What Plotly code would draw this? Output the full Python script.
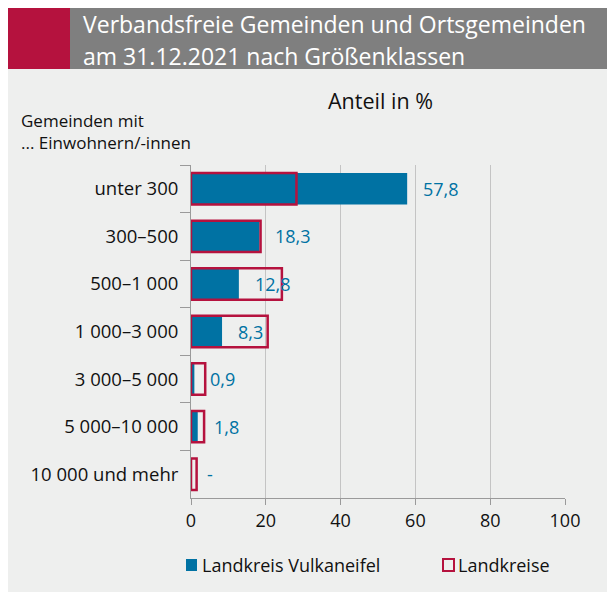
import plotly.graph_objects as go

categories = ["unter 300", "300–500", "500–1 000", "1 000–3 000",
              "3 000–5 000", "5 000–10 000", "10 000 und mehr"]
vulkaneifel = [57.8, 18.3, 12.8, 8.3, 0.9, 1.8, 0.0]
vulkaneifel_labels = ["57,8", "18,3", "12,8", "8,3", "0,9", "1,8", "-"]
landkreise = [28.2, 18.6, 24.3, 20.5, 3.8, 3.5, 1.5]
x_ticks = [0, 20, 40, 60, 80, 100]
title_lines = ["Verbandsfreie Gemeinden und Ortsgemeinden",
               "am 31.12.2021 nach Größenklassen"]

BLUE = "#0072A3"
CRIMSON = "#B5123E"
GREY_BAND = "#7F7F7F"
BG = "#EEEFEE"
FONT = "Open Sans"
TXT = "#111111"

# the page body adds an 8px margin, so the figure is 8px smaller
OFF = 8
W, H = 615 - OFF, 592 - OFF
L, R, T, B = 191 - OFF, 615 - 565, 165 - OFF, 592 - 498


def px(x):
    # reference pixel -> paper x
    return (x - OFF - L) / (W - L - R)


def py(y):
    # reference pixel -> paper y
    return (H - B - (y - OFF)) / (H - T - B)


fig = go.Figure()
fig.add_trace(go.Bar(
    y=categories, x=vulkaneifel, orientation="h", width=0.66,
    marker=dict(color=BLUE, line=dict(width=0)),
    name="Landkreis Vulkaneifel", hoverinfo="x+y",
))
fig.add_trace(go.Bar(
    y=categories, x=landkreise, orientation="h", width=0.66,
    marker=dict(color="rgba(0,0,0,0)", line=dict(color=CRIMSON, width=2.5)),
    name="Landkreise", hoverinfo="x+y",
))

annotations = []
for cat, val, lab in zip(categories, vulkaneifel, vulkaneifel_labels):
    annotations.append(dict(
        x=val, y=cat, text=lab, showarrow=False, xanchor="left",
        xshift=14, font=dict(color=BLUE, size=18, family=FONT),
    ))

# header: one annotation per line
for line, yy in zip(title_lines, [24, 56]):
    annotations.append(dict(
        x=px(81), y=py(yy), xref="paper", yref="paper", xanchor="left",
        yanchor="middle", showarrow=False, text=line,
        font=dict(color="white", size=23, family=FONT)))

annotations += [
    dict(x=px(380), y=py(101), xref="paper", yref="paper", xanchor="center",
         yanchor="middle", showarrow=False, text="Anteil in %",
         font=dict(color=TXT, size=21.5, family=FONT)),
    dict(x=px(19), y=py(131), xref="paper", yref="paper", xanchor="left",
         yanchor="middle", showarrow=False, align="left",
         text="Gemeinden mit<br>... Einwohnern/-innen",
         font=dict(color=TXT, size=17, family=FONT)),
    dict(x=px(200), y=py(565), xref="paper", yref="paper", xanchor="left",
         yanchor="middle", showarrow=False, text="Landkreis Vulkaneifel",
         font=dict(color=TXT, size=18, family=FONT)),
    dict(x=px(456), y=py(565), xref="paper", yref="paper", xanchor="left",
         yanchor="middle", showarrow=False, text="Landkreise",
         font=dict(color=TXT, size=18, family=FONT)),
]

shapes = [
    dict(type="rect", xref="paper", yref="paper", x0=px(OFF), x1=px(70),
         y0=py(69), y1=py(OFF), fillcolor=CRIMSON, line=dict(width=0), layer="below"),
    dict(type="rect", xref="paper", yref="paper", x0=px(70), x1=px(613),
         y0=py(69), y1=py(OFF), fillcolor=GREY_BAND, line=dict(width=0), layer="below"),
    # legend keys
    dict(type="rect", xref="paper", yref="paper", x0=px(186), x1=px(197),
         y0=py(571), y1=py(559), fillcolor=BLUE, line=dict(width=0)),
    dict(type="rect", xref="paper", yref="paper", x0=px(443), x1=px(454),
         y0=py(571), y1=py(559), fillcolor="rgba(0,0,0,0)",
         line=dict(color=CRIMSON, width=2)),
]

fig.update_layout(
    width=W, height=H,
    margin=dict(l=L, r=R, t=T, b=B),
    paper_bgcolor=BG, plot_bgcolor=BG,
    barmode="overlay",
    font=dict(family=FONT, size=18, color=TXT),
    annotations=annotations, shapes=shapes,
    showlegend=False,
)
fig.update_xaxes(
    range=[0, 100], tickvals=x_ticks, ticktext=[str(v) for v in x_ticks],
    showgrid=True, gridcolor="#C4C4C4", gridwidth=1,
    showline=True, linecolor="#9A9A9A", linewidth=1,
    ticks="outside", ticklen=6, tickcolor="#9A9A9A",
    zeroline=False, tickfont=dict(size=18, family=FONT, color=TXT),
    fixedrange=True,
)
fig.update_yaxes(
    categoryorder="array", categoryarray=categories, autorange="reversed",
    showgrid=False, showline=True, linecolor="#9A9A9A", linewidth=1,
    ticks="outside", tickson="boundaries", ticklen=10, tickcolor="#9A9A9A",
    ticklabelstandoff=8,
    tickfont=dict(size=18.5, family=FONT, color=TXT),
    fixedrange=True,
)

fig.write_html("out.html")
